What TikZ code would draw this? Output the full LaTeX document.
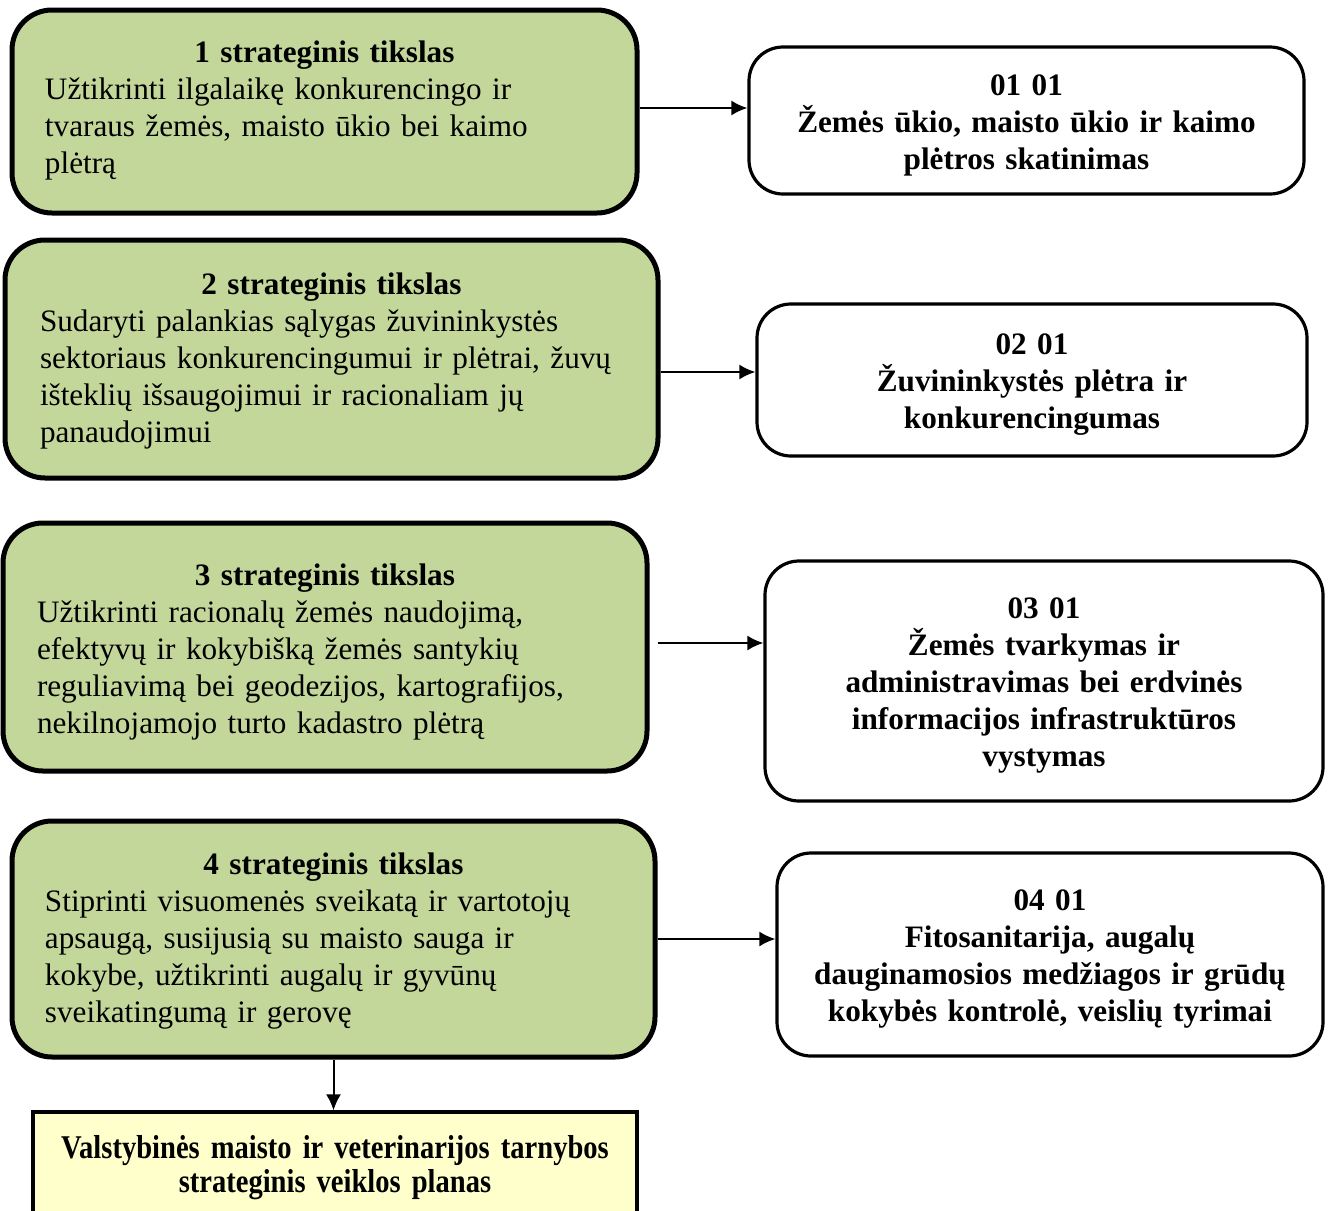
\documentclass[tikz,border=0pt]{standalone}
\usepackage{fontspec}
\setmainfont{Liberation Serif}
\newfontfamily\narrowfont[FakeStretch=0.86]{Liberation Serif}
\usetikzlibrary{arrows.meta}
\definecolor{goalgreen}{HTML}{C4D79B}
\definecolor{planyellow}{HTML}{FFFFCC}
\tikzset{>={Latex[length=8pt,width=7.5pt]}}
\tikzset{
  goal/.style = {draw, line width=2.5pt, fill=goalgreen, rounded corners=20pt,
    align=left, inner ysep=0pt, font=\fontsize{15.6}{18.5}\selectfont,
    execute at begin node={\rule{0pt}{12.5pt}}},
  prog/.style = {draw, line width=1.6pt, fill=white, rounded corners=17pt,
    align=center, inner ysep=0pt, font=\fontsize{15.6}{18.5}\selectfont\bfseries,
    execute at begin node={\rule{0pt}{15pt}}},
  plan/.style = {draw, line width=1.6pt, fill=planyellow,
    align=center, inner ysep=0pt, font=\fontsize{16.6}{17}\selectfont\narrowfont\bfseries}
}
\newcommand{\goaltitle}[1]{{\centering\bfseries #1\par}}

\begin{document}
\begin{tikzpicture}[x=0.5pt,y=-0.5pt]
  \useasboundingbox (0,0) rectangle (1329,1211);
  \clip (0,0) rectangle (1329,1211);
  % strateginiai tikslai
  \node[goal, minimum width=312.5pt, minimum height=101.5pt, text width=279.5pt,
    execute at end node={\rule[-6pt]{0pt}{0pt}}] (g1) at (324.5,111.5)
    {\goaltitle{1 strateginis tikslas}
     Užtikrinti ilgalaikę konkurencingo ir\\
     tvaraus žemės, maisto ūkio bei kaimo\\
     plėtrą};
  \node[goal, minimum width=326.5pt, minimum height=119pt, text width=291.5pt] (g2) at (331.5,359)
    {\goaltitle{2 strateginis tikslas}
     Sudaryti palankias sąlygas žuvininkystės\\
     sektoriaus konkurencingumui ir plėtrai, žuvų\\
     išteklių išsaugojimui ir racionaliam jų\\
     panaudojimui};
  \node[goal, minimum width=322pt, minimum height=124pt, text width=288pt,
    execute at begin node={\rule{0pt}{16pt}}] (g3) at (325,647)
    {\goaltitle{3 strateginis tikslas}
     Užtikrinti racionalų žemės naudojimą,\\
     efektyvų ir kokybišką žemės santykių\\
     reguliavimą bei geodezijos, kartografijos,\\
     nekilnojamojo turto kadastro plėtrą};
  \node[goal, minimum width=321.5pt, minimum height=118pt, text width=288.5pt] (g4) at (333.5,939)
    {\goaltitle{4 strateginis tikslas}
     Stiprinti visuomenės sveikatą ir vartotojų\\
     apsaugą, susijusią su maisto sauga ir\\
     kokybe, užtikrinti augalų ir gyvūnų\\
     sveikatingumą ir gerovę};
  % programos
  \node[prog, minimum width=277.5pt, minimum height=73.5pt, text width=260pt] (w1) at (1026.5,120.5)
    {01 01\\Žemės ūkio, maisto ūkio ir kaimo\\plėtros skatinimas};
  \node[prog, minimum width=275pt, minimum height=76pt, text width=258pt] (w2) at (1032,380)
    {02 01\\Žuvininkystės plėtra ir\\konkurencingumas};
  \node[prog, minimum width=279pt, minimum height=120pt, text width=262pt] (w3) at (1044,681)
    {03 01\\Žemės tvarkymas ir\\administravimas bei erdvinės\\informacijos infrastruktūros\\vystymas};
  \node[prog, minimum width=273pt, minimum height=101.5pt, text width=262pt] (w4) at (1050,954.5)
    {04 01\\Fitosanitarija, augalų\\dauginamosios medžiagos ir grūdų\\kokybės kontrolė, veislių tyrimai};
  % planas
  \node[plan, minimum width=302pt, minimum height=56pt, text width=290pt] (vp) at (335,1168)
    {Valstybinės maisto ir veterinarijos tarnybos\\strateginis veiklos planas};
  % rodyklės
  \coordinate (s1) at ([yshift=1.75pt]g1.east);
  \coordinate (s2) at ([yshift=-6.5pt]g2.east);
  \coordinate (s3) at ([xshift=4pt,yshift=2pt]g3.east);
  \coordinate (s4) at (g4.east);
  \draw[->, line width=1pt] (s1) -- (s1 -| w1.west);
  \draw[->, line width=1pt] (s2) -- (s2 -| w2.west);
  \draw[->, line width=1pt] (s3) -- (s3 -| w3.west);
  \draw[->, line width=1pt] (s4) -- (s4 -| w4.west);
  \draw[->, line width=1pt] (g4.south) -- (g4.south |- vp.north);
\end{tikzpicture}
\end{document}
